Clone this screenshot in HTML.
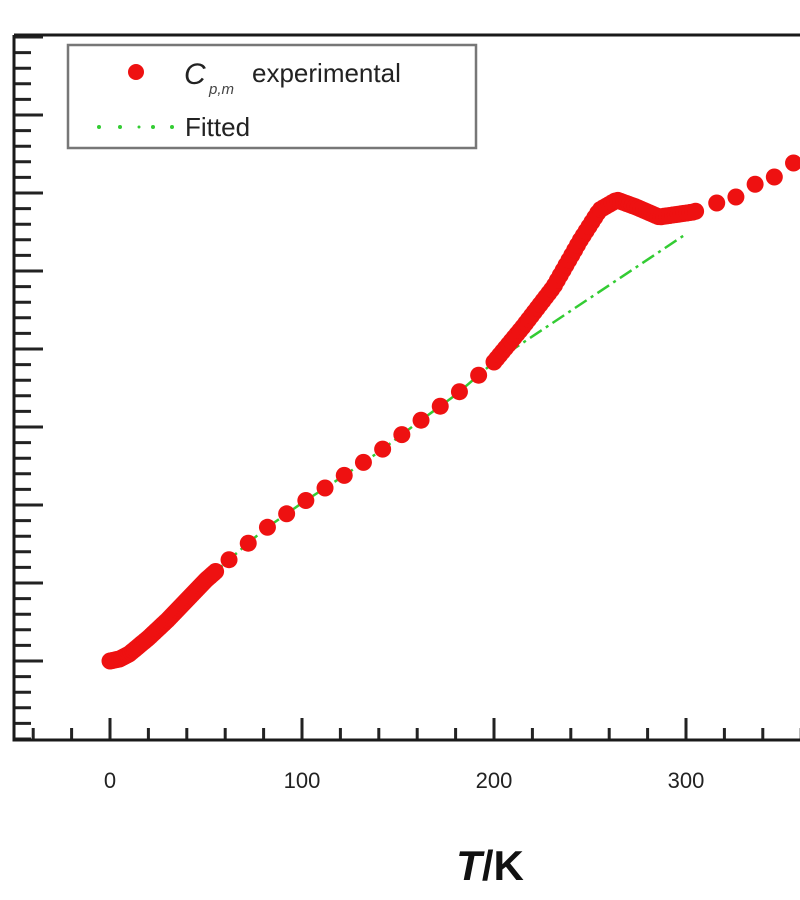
<!DOCTYPE html>
<html><head><style>body{margin:0;background:#fff}svg{display:block}</style></head>
<body>
<svg id="s" width="800" height="900" xmlns="http://www.w3.org/2000/svg" font-family="Liberation Sans, Arial, sans-serif">
<rect width="800" height="900" fill="#fff"/>
<g id="ticks" stroke="#222" stroke-width="3"></g>
<path d="M14,35 H800 M14,35 V740 H800" fill="none" stroke="#1a1a1a" stroke-width="3"/>
<g id="green"></g>
<g id="dots" fill="#ee1111"></g>
<g font-size="22" fill="#222" text-anchor="middle">
<text x="110" y="788">0</text><text x="302" y="788">100</text><text x="494" y="788">200</text><text x="686" y="788">300</text>
</g>
<text x="490" y="880" font-size="42" font-weight="bold" text-anchor="middle" fill="#111"><tspan font-style="italic">T</tspan>/K</text>
<rect x="68" y="45" width="408" height="103" fill="#fff" stroke="#777" stroke-width="2.5"/>
<circle cx="136" cy="72" r="8" fill="#ee1111"/>
<text x="184" y="84" font-size="30" font-style="italic" fill="#222">C</text>
<text x="209" y="94" font-size="15" font-style="italic" fill="#444">p,m</text>
<text x="252" y="82" font-size="26" fill="#222">experimental</text>
<g fill="#33cc33"><circle cx="99" cy="127" r="2"/><circle cx="120" cy="127" r="2"/><circle cx="139" cy="127" r="1.5"/><circle cx="153" cy="127" r="2"/><circle cx="172" cy="127" r="2"/></g>
<text x="185" y="136" font-size="26" fill="#222">Fitted</text>
</svg>
<script>
var NS="http://www.w3.org/2000/svg";
function el(p,t,a){var e=document.createElementNS(NS,t);for(var k in a)e.setAttribute(k,a[k]);p.appendChild(e);return e;}
var tk=document.getElementById('ticks');
for(var T=-40;T<=360;T+=20){var x=110+1.92*T;var maj=(T%100==0);el(tk,'line',{x1:x,y1:740,x2:x,y2:740-(maj?22:12)});}
for(var y=661;y>=36;y-=15.6){var m=Math.abs(((661-y)/78)-Math.round((661-y)/78))<0.05;el(tk,'line',{x1:14,y1:y,x2:14+(m?29:17),y2:y});}
for(var y=676.6;y<740;y+=15.6){el(tk,'line',{x1:14,y1:y,x2:31,y2:y});}
var K=[[0,661],[5,659],[10,654],[20,638],[30,620],[40,600],[50,580],[60,563],[80,530],[100,503],[120,478],[140,452],[160,423],[180,395],[200,362],[215,327],[231,287],[245,240],[255,210],[264,200],[274,207],[286,217],[304,212],[316,203],[326,197],[337,183],[346,177],[356,163],[366,155]];
function f(T){for(var i=0;i<K.length-1;i++){if(T<=K[i+1][0]){var a=K[i],b=K[i+1];return a[1]+(b[1]-a[1])*(T-a[0])/(b[0]-a[0]);}}return K[K.length-1][1];}
var g=document.getElementById('green');
var pts=[];for(var T=50;T<=200;T+=5)pts.push((110+1.92*T)+','+f(T));
pts.push((110+1.92*300)+',234');
el(g,'polyline',{points:pts.join(' '),fill:'none',stroke:'#33cc33','stroke-width':2.5,'stroke-dasharray':'14 5 3 5'});
var d=document.getElementById('dots');
function dot(T){el(d,'circle',{cx:110+1.92*T,cy:f(T),r:8.5});}
for(var T=0;T<=55;T+=1)dot(T);
for(var T=62;T<200;T+=10)dot(T);
for(var T=200;T<=306;T+=1.5)dot(T);
for(var T=316;T<=362;T+=10)dot(T);
</script>
</body></html>
